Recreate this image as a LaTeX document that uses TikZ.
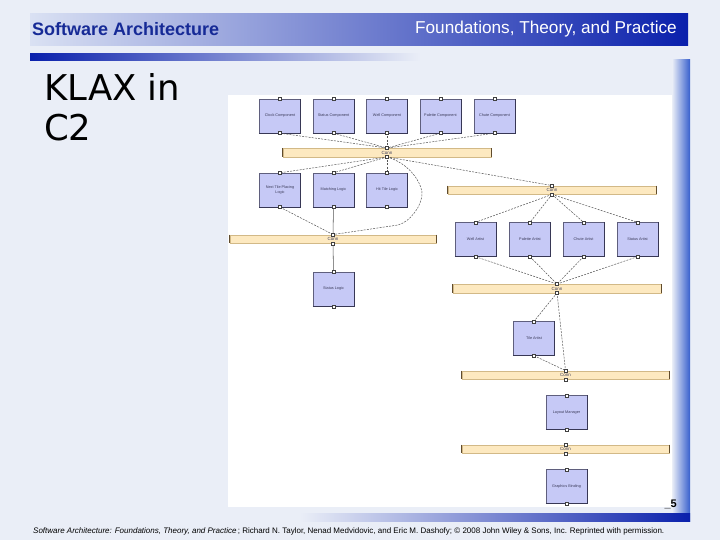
\documentclass[tikz,border=0pt]{standalone}
\usepackage{fontspec}
\setmainfont{Liberation Sans}
\newfontfamily\titlefont{DejaVu Sans}
\usetikzlibrary{calc}
\definecolor{bgcol}{RGB}{234,238,247}
\definecolor{hdrL}{RGB}{218,225,243}
\definecolor{hdrM}{RGB}{95,125,222}
\definecolor{hdrR}{RGB}{10,32,172}
\definecolor{hdrtext}{RGB}{22,42,150}
\definecolor{compfill}{RGB}{198,201,246}
\definecolor{compborder}{RGB}{95,95,125}
\definecolor{compdark}{RGB}{55,55,85}
\definecolor{comptext}{RGB}{60,60,90}
\definecolor{busfill}{RGB}{253,233,192}
\definecolor{busborder}{RGB}{210,185,135}
\definecolor{busend}{RGB}{95,75,45}
\definecolor{conncol}{RGB}{85,85,85}
\definecolor{stripblue}{RGB}{55,95,205}
\tikzset{
  comp/.style={draw=compborder, fill=compfill, line width=0.4pt, minimum width=41pt, minimum height=34pt, inner sep=1pt, align=center, font=\fontsize{3.8}{4.5}\selectfont, text=comptext},
  bus/.style={draw=busborder, fill=busfill, line width=0.4pt, minimum height=8.5pt, inner sep=0pt, font=\fontsize{4.5}{5}\selectfont, text=comptext},
  conn/.style={draw=conncol, line width=0.5pt, dash pattern=on 2pt off 1.2pt},
  solidconn/.style={draw=conncol, line width=0.55pt},
  portst/.style={draw=black!75, fill=white, line width=0.4pt}
}
\newcommand\portat[1]{\draw[portst] ($#1+(-1.5,-1.5)$) rectangle ++(3,3);}
\begin{document}
\begin{tikzpicture}[x=1pt,y=-1pt]
\useasboundingbox (0,0) rectangle (720,540);
\fill[bgcol] (0,0) rectangle (720,540);
% header
\shade[left color=hdrL, middle color=hdrM, right color=hdrR] (30,14) rectangle (688,46);
\shade[left color=hdrR, right color=bgcol] (30,54) rectangle (420,61);
\node[anchor=west, font=\fontsize{18}{20}\selectfont\bfseries, text=hdrtext, inner sep=0] (hleft) at (32,29.5) {Software Architecture};
\node[anchor=east, font=\fontsize{17.2}{19}\selectfont, text=white, inner sep=0] (hright) at (677,29.5) {Foundations, Theory, and Practice};
% frame strips
\shade[left color=bgcol, right color=stripblue] (672,60) rectangle (690,521);
\shade[left color=bgcol, right color=hdrR] (300,513) rectangle (690,521);
% title
\node[anchor=north west, align=left, inner sep=0, font=\titlefont\fontsize{35.5}{40}\selectfont] (title) at (44,73) {KLAX in\\C2};
% diagram canvas
\fill[white] (228,95) rectangle (672,507);
% components
\node[comp] (clock) at (280,116) {Clock Component};
\node[comp] (statuscomp) at (333.5,116) {Status Component};
\node[comp] (well) at (387,116) {Well Component};
\node[comp] (palette) at (440.5,116) {Palette Component};
\node[comp] (chute) at (494.5,116) {Chute Component};
\node[bus, minimum width=208pt] (bus1) at (387,152.5) {Conn};
\node[comp] (ntp) at (280,190) {Next Tile Placing\\Logic};
\node[comp] (match) at (333.5,190) {Matching Logic};
\node[comp] (hit) at (387,190) {Hit Tile Logic};
\node[bus, minimum width=208pt] (bus2) at (552,190) {Conn};
\node[bus, minimum width=206pt] (bus3) at (333,239) {Conn};
\node[comp] (statuslogic) at (333.5,289) {Status Logic};
\node[comp] (wellart) at (475.5,239.5) {Well Artist};
\node[comp] (paletteart) at (530,239.5) {Palette Artist};
\node[comp] (chuteart) at (583.5,239.5) {Chute Artist};
\node[comp] (statusart) at (637.5,239.5) {Status Artist};
\node[bus, minimum width=208pt] (bus4) at (557,288.5) {Conn};
\node[comp] (tileart) at (534,338.5) {Tile Artist};
\node[bus, minimum width=207pt] (bus5) at (565.5,375) {Conn};
\node[comp] (layout) at (566.5,412.5) {Layout Manager};
\node[bus, minimum width=207pt] (bus6) at (565.5,449) {Conn};
\node[comp] (gfx) at (566.5,486.5) {Graphics Binding};
% shadows on components
\foreach \n in {clock,statuscomp,well,palette,chute,ntp,match,hit,statuslogic,wellart,paletteart,chuteart,statusart,tileart,layout,gfx}
  \draw[compdark, line width=1.3pt] (\n.south west) -- (\n.south east) -- (\n.north east);
\foreach \n in {bus1,bus2,bus3,bus4,bus5,bus6}{
  \draw[busend, line width=0.9pt] (\n.north west) -- (\n.south west);
  \draw[busend, line width=0.9pt] (\n.north east) -- (\n.south east);
}
% connectors
\foreach \n in {clock,statuscomp,well,palette,chute}
  \draw[conn] (\n.south) -- (bus1.north);
\foreach \n in {ntp,match,hit}
  \draw[conn] (bus1.south) -- (\n.north);
\draw[conn] (bus1.south) -- (bus2.north);
\coordinate (bend) at (422,192);
\draw[conn] (bus1.south) .. controls (408,163) and (420,180) .. (bend) .. controls (423,205) and (410,222) .. (398,225) -- (bus3.north);
\draw[conn] (ntp.south) -- (bus3.north);
\draw[solidconn] (match.south) -- (bus3.north);
\draw[solidconn] (bus3.south) -- (statuslogic.north);
\foreach \n in {wellart,paletteart,chuteart,statusart}{
  \draw[conn] (bus2.south) -- (\n.north);
  \draw[conn] (\n.south) -- (bus4.north);
}
\draw[conn] (bus4.south) -- (tileart.north);
\draw[conn] (bus4.south) -- (bus5.north);
\draw[conn] (tileart.south) -- (bus5.north);
% ports
\foreach \n in {clock,statuscomp,well,palette,chute,ntp,match,hit,statuslogic,wellart,paletteart,chuteart,statusart,tileart,layout,gfx,bus1,bus2,bus3,bus4,bus5,bus6}{
  \portat{(\n.north)}
  \portat{(\n.south)}
}
% page number
\node[anchor=south east, inner sep=0, font=\fontsize{11}{12}\selectfont\bfseries] (pnum) at (677,509) {\_5};
% footer
\node[anchor=west, inner sep=0, font=\fontsize{8}{9}\selectfont] (footer) at (33,531.5) {\textit{Software Architecture: Foundations, Theory, and Practice}\,; Richard N. Taylor, Nenad Medvidovic, and Eric M. Dashofy; \textcopyright{} 2008 John Wiley \& Sons, Inc. Reprinted with permission.};
\end{tikzpicture}
\end{document}
